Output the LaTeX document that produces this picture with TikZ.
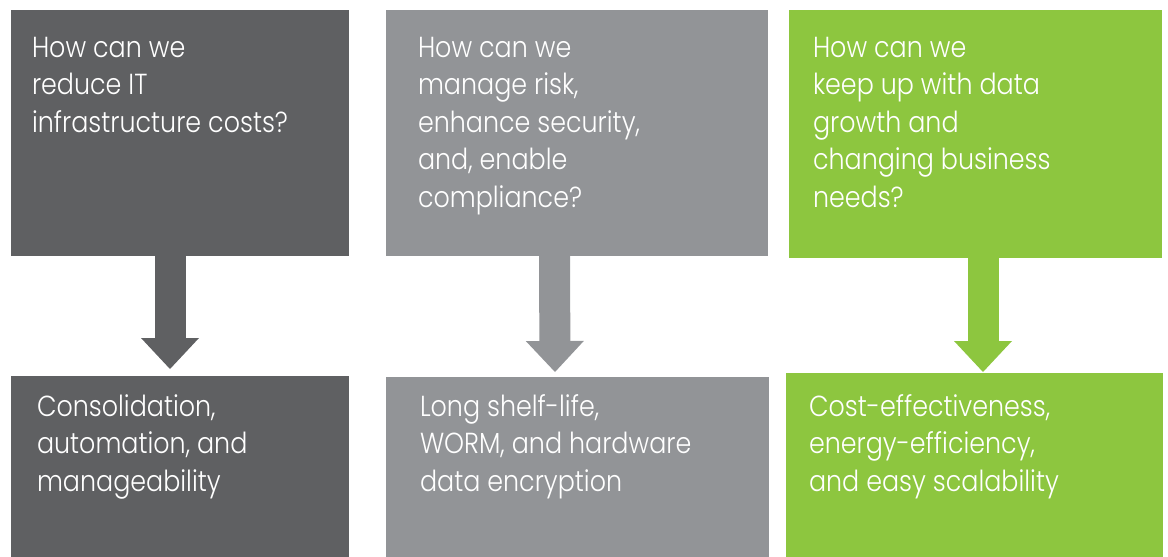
\documentclass[tikz,border=0pt]{standalone}
\usepackage{fontspec}
\setmainfont{Poppins Light}[FakeStretch=0.875]
\usetikzlibrary{arrows.meta,calc}
\definecolor{cdark}{HTML}{5F6062}
\definecolor{cmid}{HTML}{929497}
\definecolor{cgreen}{HTML}{8DC63F}
\begin{document}
\begin{tikzpicture}[x=1pt,y=-1pt,
  box/.style={draw=none, inner sep=0pt, outer sep=0pt, anchor=north west},
  txt/.style={inner sep=0pt, outer sep=0pt, anchor=north west, align=left, text=white,
    font=\fontsize{29}{37.5}\selectfont},
  flowarrow/.style={draw=#1, line width=31pt,
    -{Triangle[width=58pt,length=31pt,line width=0pt,fill=#1]}}
]
\useasboundingbox (0,0) rectangle (1168,557);
% top boxes
\node[box, fill=cdark,  minimum width=338pt, minimum height=246pt] (q1) at (11,10) {};
\node[box, fill=cmid,   minimum width=382pt, minimum height=246pt] (q2) at (386,10) {};
\node[box, fill=cgreen, minimum width=373pt, minimum height=248pt] (q3) at (789,10) {};
% bottom boxes
\node[box, fill=cdark,  minimum width=338pt, minimum height=181pt] (a1) at (11,376) {};
\node[box, fill=cmid,   minimum width=383pt, minimum height=180pt] (a2) at (386,377) {};
\node[box, fill=cgreen, minimum width=377pt, minimum height=184pt] (a3) at (786,373) {};
% texts
\node[txt] (q1t) at ($(q1.north west)+(21,27)$) {How can we\\reduce IT\\infrastructure costs?};
\node[txt] (q2t) at ($(q2.north west)+(32,27)$) {How can we\\manage risk,\\enhance security,\\and, enable\\compliance?};
\node[txt] (q3t) at ($(q3.north west)+(24,27)$) {How can we\\keep up with data\\growth and\\changing business\\needs?};
\node[txt] (a1t) at ($(a1.north west)+(26,18.5)$) {Consolidation,\\automation, and\\manageability};
\node[txt] (a2t) at ($(a2.north west)+(34,17.5)$) {Long shelf-life,\\WORM, and hardware\\data encryption};
\node[txt] (a3t) at ($(a3.north west)+(23,21.5)$) {Cost-effectiveness,\\energy-efficiency,\\and easy scalability};
% arrows
\draw[flowarrow=cdark]  ($(q1.south)+(-10,0)$) -- ($(a1.north)+(-10,-7)$);
\draw[flowarrow=cmid]   ($(q2.south)+(-22.5,0)$) -- ($(a2.north)+(-22.5,-5)$);
\draw[flowarrow=cgreen] ($(q3.south)+(7.5,0)$) -- ($(a3.north)+(8.5,-1)$);
\end{tikzpicture}
\end{document}
